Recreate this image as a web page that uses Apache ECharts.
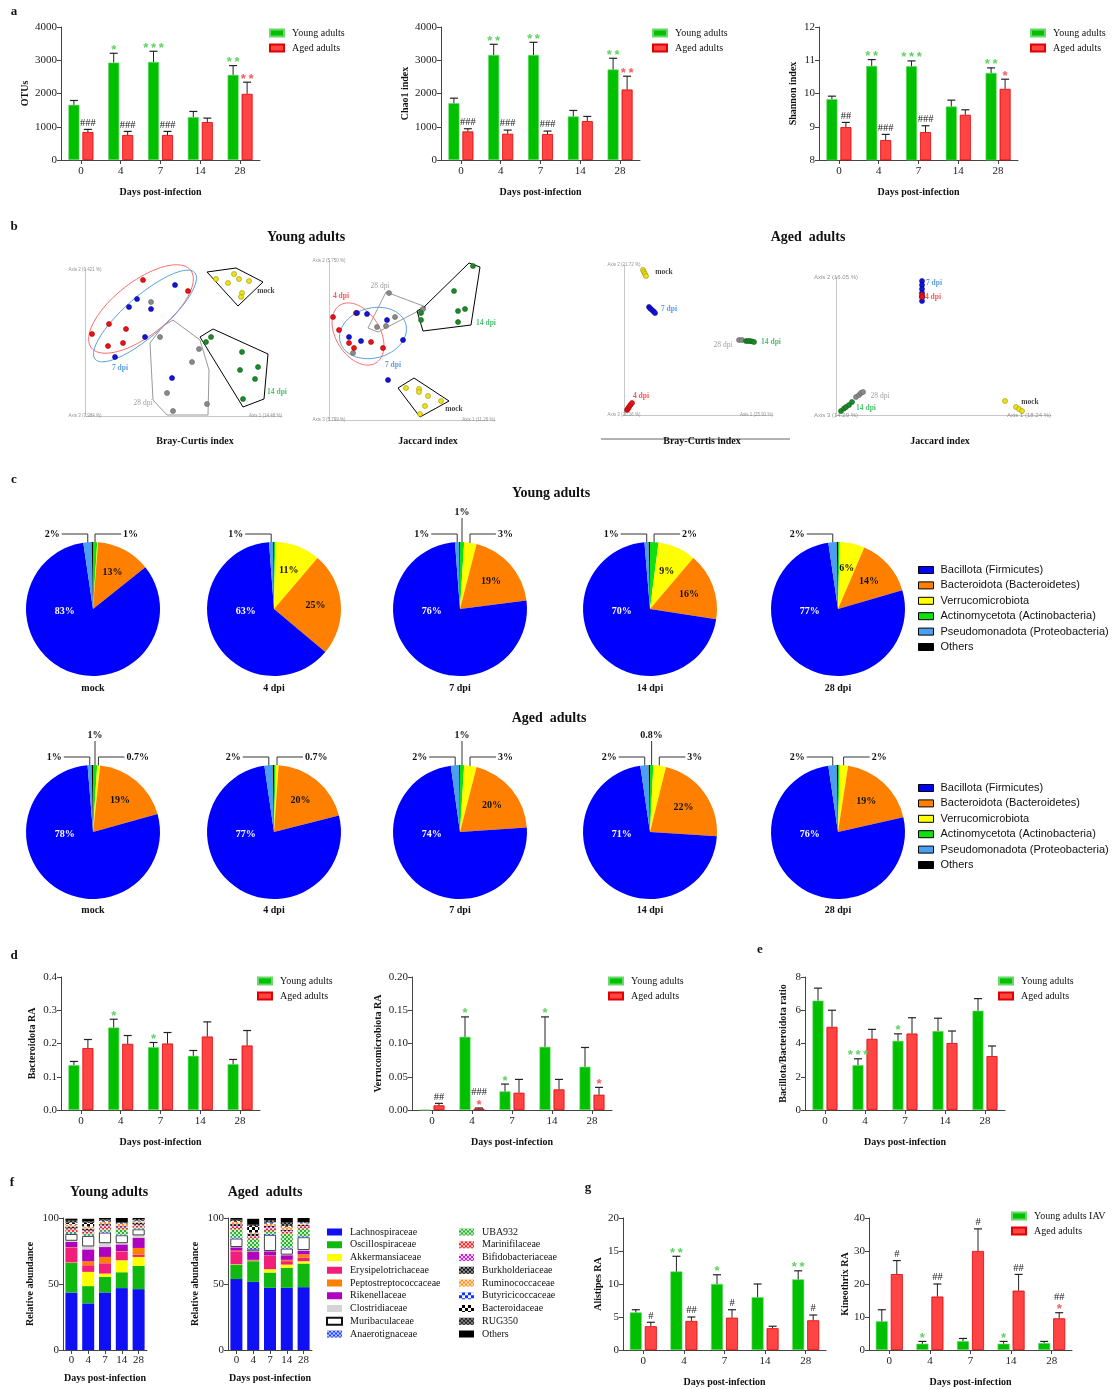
<!DOCTYPE html>
<html><head><meta charset="utf-8">
<script src="https://cdn.jsdelivr.net/npm/echarts/dist/echarts.min.js"></script>
<style>html,body{margin:0;padding:0;background:#fff;}#chart{width:1115px;height:1389px;}</style>
</head><body><div id="chart"></div>
<script>
// ================= DATA =================
const days = ['0','4','7','14','28'];

// panel a
const otuYoung = [1660,2930,2950,1290,2560];
const otuYoungSem = [130,280,320,170,280];
const otuAged = [840,750,750,1140,1990];
const otuAgedSem = [80,110,110,120,350];

const chaoYoung = [1710,3160,3160,1310,2720];
const chaoYoungSem = [150,320,380,180,340];
const chaoAged = [860,790,780,1170,2120];
const chaoAgedSem = [80,110,90,140,400];

const shanYoung = [9.83,10.83,10.82,9.61,10.62];
const shanYoungSem = [0.09,0.19,0.16,0.19,0.15];
const shanAged = [8.99,8.60,8.84,9.36,10.14];
const shanAgedSem = [0.14,0.17,0.19,0.15,0.29];

// panel d / e
const bactYoung = [0.135,0.248,0.189,0.163,0.138];
const bactYoungSem = [0.011,0.025,0.014,0.016,0.014];
const bactAged = [0.186,0.199,0.200,0.221,0.194];
const bactAgedSem = [0.026,0.025,0.033,0.044,0.045];

const verrYoung = [0,0.110,0.028,0.095,0.065];
const verrYoungSem = [0,0.030,0.011,0.045,0.029];
const verrAged = [0.007,0.002,0.026,0.031,0.023];
const verrAgedSem = [0.003,0.001,0.020,0.015,0.011];

const ratioYoung = [6.58,2.70,4.16,4.75,5.97];
const ratioYoungSem = [0.75,0.38,0.42,0.77,0.73];
const ratioAged = [5.00,4.28,4.60,4.03,3.24];
const ratioAgedSem = [1.00,0.57,0.95,0.72,0.61];

// panel g
const alisYoung = [5.7,11.9,10.0,8.0,10.7];
const alisYoungSem = [0.4,2.3,1.4,2.0,1.3];
const alisAged = [3.6,4.4,4.9,3.3,4.5];
const alisAgedSem = [0.6,0.6,1.2,0.3,0.8];

const kineYoung = [8.7,1.9,2.7,1.9,2.1];
const kineYoungSem = [3.5,0.7,0.8,0.7,0.5];
const kineAged = [23.0,16.2,30.0,18.0,9.6];
const kineAgedSem = [4.1,3.8,6.7,4.9,1.7];

// panel c (phyla %, legend order)
const phyla = ['Bacillota (Firmicutes)','Bacteroidota (Bacteroidetes)','Verrucomicrobiota','Actinomycetota (Actinobacteria)','Pseudomonadota (Proteobacteria)','Others'];
const pieSamples = ['mock','4 dpi','7 dpi','14 dpi','28 dpi'];
const phylaYoung = [[83,13,0.2,1,2,0.3],[63,25,11,0.3,1,0.2],[76,19,3,1,1,0.2],[70,16,9,2,1,0.3],[77,14,6,0.4,2,0.3]];
const phylaAged = [[78,19,0.7,1,1,0.3],[77,20,0.7,0.4,2,0.3],[74,20,3,1,2,0.2],[71,22,3,0.8,2,0.3],[76,19,2,0.4,2,0.3]];

// panel f (families, rows = family, columns = days)
const families = ['Lachnospiraceae','Oscillospiraceae','Akkermansiaceae','Erysipelotrichaceae','Peptostreptococcaceae','Rikenellaceae','Clostridiaceae','Muribaculaceae','Anaerotignaceae','UBA932','Marinifilaceae','Bifidobacteriaceae','Burkholderiaceae','Ruminococcaceae','Butyricicoccaceae','Bacteroidaceae','RUG350','Others'];
const famYoung = [
 [43.5,35.3,43.6,46.9,46.1],[22.5,13.1,11.8,12.0,17.6],[0.3,10.8,2.5,9.1,6.8],[11.0,5.0,7.8,6.3,1.8],
 [0.5,3.0,4.8,0.5,5.0],[4.0,9.0,7.5,5.2,7.6],[1.0,2.3,3.0,1.0,2.0],[5.0,7.8,7.9,5.9,4.5],
 [0.7,0.6,1.0,0.6,0.5],[1.0,1.5,1.5,4.0,1.0],[2.0,1.5,2.0,1.0,1.5],[0.5,0.5,1.0,1.0,0.5],
 [1.5,1.5,1.0,0.5,1.5],[1.5,1.5,1.5,1.5,1.0],[0.5,0.5,0.5,0.3,0.3],[1.0,2.5,0.5,0.3,0.5],
 [1.5,1.0,1.0,0.5,1.0],[1.5,2.0,1.5,3.5,0.8]];
const famAged = [
 [53.7,51.6,47.1,47.1,47.6],[11.0,15.7,11.6,15.1,17.9],[0.3,0.3,2.5,2.5,1.8],[9.8,0.4,10.1,2.6,2.7],
 [0.5,0.3,0.3,1.0,2.5],[2.5,6.0,3.2,3.5,2.8],[0.3,0.5,0.3,0.5,0.5],[6.3,1.5,12.1,4.5,9.6],
 [1.0,1.0,1.0,1.0,0.8],[6.0,7.1,2.0,10.4,5.7],[2.0,1.5,2.0,1.5,1.5],[0.5,0.5,1.0,0.5,0.5],
 [1.5,1.5,1.0,1.0,1.0],[1.5,1.0,1.5,2.0,1.0],[0.3,0.5,0.5,0.3,0.3],[0.5,4.5,0.5,0.5,0.3],
 [1.0,1.0,1.5,2.5,0.5],[1.3,4.5,2.5,3.5,3.0]];

// panel b (PCoA scores, arbitrary units)
const ybc4 = [[29,68],[51.5,62.5],[12,46],[20.5,43.5],[3.5,41],[11.5,35],[19,36.5]];
const ybc7 = [[45,65.5],[26,58.5],[22,54.5],[33,53.5],[30,39.5],[15,29.5],[43.5,19]];
const ybc14 = [[63,39.5],[60.5,37],[78.5,32],[86.5,24.5],[77.5,23],[85,18.5],[79,8.5]];
const ybc28 = [[33,57],[37.5,39.5],[57,33.5],[53.5,27],[41,11.5],[44,2.5],[61,6]];
const ybcMock = [[65.5,68.5],[74.5,71],[77,68.5],[82,67.5],[71.5,66.5],[78.5,61.5],[78,59.5]];
const ybcHullMock = [[61,72],[75.5,74],[89,67],[76.5,55]];
const ybcHull14 = [[57.5,39.5],[64,43.5],[91.5,31],[89.5,8.5],[79,4.5]];
const ybcHull28 = [[44,48],[39,45],[32.5,36.5],[34,8],[41,0.5],[61.5,0.5],[62,23],[57.5,38]];
const ybcEll4 = [28,53.5,31.5,13.5,38];   // cx, cy, semi-axis a, semi-axis b, tilt (deg)
const ybcEll7 = [30,50,33,10,41];

const yj4 = [[2,51.5],[5,45],[13.5,53.5],[21,39],[10,38.5],[12.5,36],[27,36]];
const yj7 = [[14,53.5],[19,53],[29,50],[10,41.5],[16,39.5],[37,40],[29.5,20]];
const yj14 = [[72,77],[62.5,64.5],[68,55.5],[64.5,54.5],[46,53.5],[46,50],[64.5,49]];
const yj28 = [[30,63.5],[33,51.5],[24,46.5],[28.5,47],[47,55.5],[12,33.5]];
const yjMock = [[38.5,16],[45,15.5],[45,14],[49.5,12],[56,9.5],[48,7],[45.5,3]];
const yjHull28 = [[28.5,64],[48.5,56.5],[24.5,44],[19.5,46]];
const yjHull14 = [[70,78.5],[75.5,76.5],[71,47.5],[47,44.5],[44,54.5],[47.5,56.5]];
const yjHullMock = [[34.5,16],[42.5,21],[60,9.5],[45.5,1.5]];
const yjEll4 = [14.5,43,17,11,-58];
const yjEll7 = [22,43.5,17,12.5,15];

const abcMock = [[9.5,72.5],[10,71.5],[10.5,70.5],[11,69.5]];
const abc7 = [[12.5,54],[13.2,53.2],[14,52.5],[14.8,51.8],[15.5,51]];
const abc28 = [[57.5,37.5],[59,37.5]];
const abc14 = [[61,37],[62,37],[63,37],[64,36.8],[65,36.5]];
const abc4 = [[1.5,2.5],[2,3.2],[2.5,4],[3.2,5],[4,6]];

const aj7 = [[43,67],[43,65],[43,63],[43,61],[43,59],[43,57]];
const aj4 = [[43,60],[43,59]];
const aj14 = [[2.5,2],[4,3.2],[5,4],[6.5,5],[8,6.5]];
const aj28 = [[10,9],[11.5,10],[12.5,11],[13.5,11.5]];
const ajMock = [[84.5,7],[90,4],[91.5,3],[93,2]];

// ================= BUILD =================
const SERIF = '"Liberation Serif","Times New Roman",serif';
const SANS = '"Liberation Sans",Arial,sans-serif';
const GREEN='#00c000', RED='#ff4444', STAR_G='#5fd35f', STAR_R='#ff5a5a';
const opt = {animation:false, backgroundColor:'#ffffff', textStyle:{fontFamily:SERIF},
  grid:[], xAxis:[], yAxis:[], series:[], legend:[], graphic:[]};

function addGrid(l,t,w,h){ opt.grid.push({left:l, top:t, width:w, height:h, containLabel:false, outerBoundsMode:'none'}); return opt.grid.length-1; }
function txt(x,y,t,size,weight,color,align,family){
  opt.graphic.push({type:'text', x:x, y:y, silent:true, z:10,
    style:{text:t, fontSize:size, fontWeight:weight||'normal', fontFamily:family||SERIF, fill:color||'#111',
      align:align||'center', textAlign:align||'center', verticalAlign:'middle', textVerticalAlign:'middle'}});
}

function barChart(c){
  const gi = addGrid(c.left, c.top, c.width, c.height);
  const bw = c.bw || 11, gap = 3, off = (bw+gap)/2, axisCol = '#444';
  opt.xAxis.push({type:'category', gridIndex:gi, data:days,
    axisLine:{show:true, lineStyle:{color:axisCol, width:1}},
    axisTick:{show:true, alignWithLabel:true, length:4, lineStyle:{color:axisCol}},
    axisLabel:{show:true, fontFamily:SERIF, fontSize:11, color:'#222', margin:6, interval:0},
    splitLine:{show:false},
    name:'Days post-infection', nameLocation:'middle', nameGap:c.xGap||27,
    nameTextStyle:{fontFamily:SERIF, fontWeight:'bold', fontSize:10, color:'#111'}});
  const xi = opt.xAxis.length-1;
  opt.yAxis.push({type:'value', gridIndex:gi, min:c.min, max:c.max, interval:c.interval,
    axisLine:{show:true, lineStyle:{color:axisCol, width:1}},
    axisTick:{show:true, length:4, lineStyle:{color:axisCol}},
    axisLabel:{show:true, fontFamily:SERIF, fontSize:11, color:'#222', margin:4, formatter:v=>v.toFixed(c.dec||0)},
    splitLine:{show:false},
    name:c.yName, nameLocation:'middle', nameGap:c.yGap,
    nameTextStyle:{fontFamily:SERIF, fontWeight:'bold', fontSize:10, color:'#111'}});
  const yi = opt.yAxis.length-1;
  const names = c.names || ['Young adults','Aged adults'];
  const base = {type:'bar', xAxisIndex:xi, yAxisIndex:yi, barWidth:bw, barGap:(gap/bw*100)+'%', silent:true};
  opt.series.push(Object.assign({name:names[0], data:c.young, itemStyle:{color:GREEN, borderColor:'#6ad86a', borderWidth:0.6}}, base));
  opt.series.push(Object.assign({name:names[1], data:c.aged, itemStyle:{color:RED, borderColor:'#e00000', borderWidth:0.8}}, base));
  const sets = [[c.young,c.youngSem,-off,c.starsY||[],null,STAR_G],[c.aged,c.agedSem,off,c.starsA||[],c.hashA||null,STAR_R]];
  sets.forEach(s=>{
    const vals=s[0], sem=s[1], dx=s[2], stars=s[3], hashes=s[4], scol=s[5];
    opt.series.push({type:'custom', xAxisIndex:xi, yAxisIndex:yi, silent:true, z:5, clip:false,
      data: vals.map((v,i)=>[i,v,sem[i]]),
      renderItem:(p,api)=>{
        const i=api.value(0), v=api.value(1), e=api.value(2);
        const p0=api.coord([i,v]), p1=api.coord([i,v+e]);
        const x=p0[0]+dx, ch=[];
        if(e>0){
          ch.push({type:'line', shape:{x1:x,y1:p0[1],x2:x,y2:p1[1]}, style:{stroke:'#222', lineWidth:1}});
          ch.push({type:'line', shape:{x1:x-4,y1:p1[1],x2:x+4,y2:p1[1]}, style:{stroke:'#222', lineWidth:1.2}});
        }
        let yTop = p1[1];
        const st = stars[i], hs = hashes ? hashes[i] : '';
        if(st){
          ch.push({type:'text', x:x, y:yTop-3, style:{text:st.split('').join('\u2009'), fill:scol, fontSize:13, fontWeight:'bold', fontFamily:SANS, align:'center', textAlign:'center', verticalAlign:'middle', textVerticalAlign:'middle'}});
          yTop -= 9;
        }
        if(hs){
          ch.push({type:'text', x:x, y:yTop-1, style:{text:hs, fill:'#222', fontSize:10.5, fontFamily:SERIF, align:'center', textAlign:'center', verticalAlign:'bottom', textVerticalAlign:'bottom'}});
        }
        return {type:'group', children:ch};
      }});
  });
  if(c.legend){
    opt.legend.push({left:c.legend[0], top:c.legend[1], orient:'vertical', padding:0, itemGap:3,
      itemWidth:14, itemHeight:7, icon:'rect', selectedMode:false, data:names,
      textStyle:{fontFamily:SERIF, fontSize:10, color:'#111', lineHeight:12, padding:[0,0,0,3]}});
  }
}

// ---- panel a
barChart({left:61, top:27, width:199, height:133, min:0, max:4000, interval:1000, yName:'OTUs', yGap:31,
  young:otuYoung, youngSem:otuYoungSem, aged:otuAged, agedSem:otuAgedSem,
  starsY:['','*','***','','**'], starsA:['','','','','**'], hashA:['###','###','###','',''], legend:[269,27]});
barChart({left:441, top:27, width:199, height:133, min:0, max:4000, interval:1000, yName:'Chao1 index', yGap:31,
  young:chaoYoung, youngSem:chaoYoungSem, aged:chaoAged, agedSem:chaoAgedSem,
  starsY:['','**','**','','**'], starsA:['','','','','**'], hashA:['###','###','###','',''], legend:[652,27]});
barChart({left:819, top:27, width:199, height:133, min:8, max:12, interval:1, yName:'Shannon index', yGap:21,
  young:shanYoung, youngSem:shanYoungSem, aged:shanAged, agedSem:shanAgedSem,
  starsY:['','**','***','','**'], starsA:['','','','','*'], hashA:['##','###','###','',''], legend:[1030,27]});

// ---- panel d / e
barChart({left:61, top:977, width:199, height:133, min:0, max:0.4, interval:0.1, dec:1, yName:'Bacteroidota RA', yGap:24,
  young:bactYoung, youngSem:bactYoungSem, aged:bactAged, agedSem:bactAgedSem,
  starsY:['','*','*','',''], legend:[257,975]});
barChart({left:412, top:977, width:200, height:133, min:0, max:0.2, interval:0.05, dec:2, yName:'Verrucomicrobiota RA', yGap:29,
  young:verrYoung, youngSem:verrYoungSem, aged:verrAged, agedSem:verrAgedSem,
  starsY:['','*','*','*',''], starsA:['','*','','','*'], hashA:['##','###','','',''], legend:[608,975]});
barChart({left:805, top:977, width:200, height:133, min:0, max:8, interval:2, yName:'Bacillota/Bacteroidota ratio', yGap:17,
  young:ratioYoung, youngSem:ratioYoungSem, aged:ratioAged, agedSem:ratioAgedSem,
  starsY:['','***','*','',''], legend:[998,975]});

// ---- panel g
barChart({left:623, top:1218, width:203, height:132, min:0, max:20, interval:5, bw:12, yName:'Alistipes RA', yGap:20,
  young:alisYoung, youngSem:alisYoungSem, aged:alisAged, agedSem:alisAgedSem,
  starsY:['','**','*','','**'], hashA:['#','##','#','','#']});
barChart({left:869, top:1218, width:203, height:132, min:0, max:40, interval:10, bw:12, yName:'Kineothrix RA', yGap:14,
  young:kineYoung, youngSem:kineYoungSem, aged:kineAged, agedSem:kineAgedSem,
  starsY:['','*','','*',''], starsA:['','','','','*'], hashA:['#','##','#','##','##'],
  names:['Young adults IAV','Aged adults'], legend:[1011,1210]});

// ---- panel c pies
const PHYLA_COL = ['#0000ff','#ff8000','#ffff00','#10e010','#4a9ff0','#000000'];
const PIE_ORDER = [3,2,1,0,4,5]; // clockwise from 12 o'clock
function pie(cx, cy, r, vals){
  const ord = PIE_ORDER.map(k=>({name:phyla[k], value:vals[k], k:k}));
  const total = ord.reduce((a,d)=>a+d.value,0);
  let acc=0; const mids = ord.map(d=>{const m=(acc+d.value/2)/total*2*Math.PI; acc+=d.value; return m;});
  let maxI=0; ord.forEach((d,i)=>{ if(d.value>ord[maxI].value) maxI=i; });
  const modes = ord.map((d,i)=> d.value<0.5 ? 'none' : (d.value>=5 ? 'in' : (mids[i]>Math.PI ? 'L' : 'R')));
  const rs = modes.map((m,i)=>m==='R'?i:-1).filter(i=>i>=0);
  if(rs.length>=2) modes[rs[0]]='up';
  opt.series.push({type:'pie', center:[cx,cy], radius:[0,r], startAngle:90, clockwise:true, avoidLabelOverlap:false,
    silent:true, itemStyle:{borderWidth:0},
    label:{fontFamily:SERIF, fontWeight:'bold', fontSize:10, color:'#111', formatter:p=>p.value+'%'},
    labelLine:{show:true, lineStyle:{color:'#333', width:1}},
    labelLayout:(p)=>{
      const i=p.dataIndex, th=mids[i], m=modes[i];
      if(m==='none') return {};
      if(m==='in'){
        if(i===maxI) return {x:cx-0.42*r, y:cy+0.03*r, align:'center', verticalAlign:'middle'};
        return {x:cx+0.62*r*Math.sin(th), y:cy-0.62*r*Math.cos(th), align:'center', verticalAlign:'middle'};
      }
      const x0=cx+(r-3)*Math.sin(th), y0=cy-(r-3)*Math.cos(th);
      if(m==='up'){ const yt=cy-r-24; return {x:x0, y:yt-1, align:'center', verticalAlign:'bottom', labelLinePoints:[[x0,y0],[x0,yt],[x0,yt]]}; }
      const dir = m==='L'?-1:1, yh=cy-r-8;
      return {x:x0+dir*28, y:yh, align:dir<0?'right':'left', verticalAlign:'middle', labelLinePoints:[[x0,y0],[x0,yh],[x0+dir*26,yh]]};
    },
    data: ord.map((d,i)=>({name:d.name, value:d.value, itemStyle:{color:PHYLA_COL[d.k]},
      label:{show:modes[i]!=='none', position:modes[i]==='in'?'inside':'outside', color:(modes[i]==='in'&&i===maxI)?'#fff':'#111'},
      labelLine:{show:modes[i]!=='in' && modes[i]!=='none'}}))});
}
const pieCx = [93,274,460,650,838];
phylaYoung.forEach((v,j)=>{ pie(pieCx[j], 609, 67, v); txt(pieCx[j], 688, pieSamples[j], 10, 'bold'); });
phylaAged.forEach((v,j)=>{ pie(pieCx[j], 832, 67, v); txt(pieCx[j], 910, pieSamples[j], 10, 'bold'); });
[563.5, 781.5].forEach(t=>opt.legend.push({left:918, top:t, orient:'vertical', padding:0, itemGap:2.4, itemWidth:15, itemHeight:7,
  icon:'rect', selectedMode:false, data:phyla, itemStyle:{borderColor:'#000', borderWidth:1},
  textStyle:{fontFamily:SANS, fontSize:11, color:'#111', lineHeight:13, padding:[0,0,0,2]}}));

// ---- panel f stacked bars
function checker(fg,bg,s){ return {color:bg, decal:{symbol:'rect', symbolSize:1, dashArrayX:[[s,s],[0,s,s,0]], dashArrayY:[s,0], color:fg}}; }
const FAM_STYLE = [
  {color:'#1010f5'},{color:'#10b810'},{color:'#ffff00'},{color:'#f0207a'},{color:'#ff7f00'},{color:'#b000c0'},
  {color:'#d4d4d4'},{color:'#ffffff', borderColor:'#111', borderWidth:0.8},
  checker('#2040ff','#c0ccff',2), checker('#30b030','#c8f0c8',2), checker('#ff2020','#ffd0d0',2), checker('#d020d0','#f8d0f8',2),
  checker('#111111','#999999',1.5), checker('#ff9020','#ffe0c0',2), checker('#1030ff','#ffffff',3), checker('#000000','#ffffff',3),
  checker('#222222','#888888',1.5), {color:'#000000'}];
function stackChart(left, rows, stackId){
  const gi = addGrid(left, 1218, 84, 132), axisCol='#444';
  opt.xAxis.push({type:'category', gridIndex:gi, data:days,
    axisLine:{show:true, lineStyle:{color:axisCol}}, axisTick:{show:true, alignWithLabel:true, length:4, lineStyle:{color:axisCol}},
    axisLabel:{fontFamily:SERIF, fontSize:11, color:'#222', margin:5, interval:0}, splitLine:{show:false},
    name:'Days post-infection', nameLocation:'middle', nameGap:23, nameTextStyle:{fontFamily:SERIF, fontWeight:'bold', fontSize:10, color:'#111'}});
  const xi=opt.xAxis.length-1;
  opt.yAxis.push({type:'value', gridIndex:gi, min:0, max:100, interval:50,
    axisLine:{show:true, lineStyle:{color:axisCol}}, axisTick:{show:true, length:4, lineStyle:{color:axisCol}},
    axisLabel:{fontFamily:SERIF, fontSize:11, color:'#222', margin:4}, splitLine:{show:false},
    name:'Relative abundance', nameLocation:'middle', nameGap:28, nameTextStyle:{fontFamily:SERIF, fontWeight:'bold', fontSize:10, color:'#111'}});
  const yi=opt.yAxis.length-1;
  families.forEach((f,k)=>opt.series.push({type:'bar', name:f, stack:stackId, xAxisIndex:xi, yAxisIndex:yi, barWidth:12,
    silent:true, data:rows[k], itemStyle:FAM_STYLE[k]}));
}
stackChart(63, famYoung, 'young');
stackChart(228, famAged, 'aged');
[[326, families.slice(0,9)],[459, families.slice(9)]].forEach(l=>opt.legend.push({left:l[0], top:1226, orient:'vertical', padding:0,
  itemGap:0.75, itemWidth:15, itemHeight:7, icon:'rect', selectedMode:false, data:l[1],
  textStyle:{fontFamily:SERIF, fontSize:10, color:'#111', lineHeight:12, padding:[0,0,0,3]}}));

// ---- panel b PCoA
const PT_COL = {'4 dpi':'#e8141a','7 dpi':'#1414d8','14 dpi':'#1e8a2a','28 dpi':'#8a8a8a','mock':'#eee21a'};
const PT_BOR = {'4 dpi':'#a00000','7 dpi':'#000090','14 dpi':'#0c5a14','28 dpi':'#606060','mock':'#9a9400'};
const LB_COL = {'4 dpi':'#ff2a2a','7 dpi':'#2f86d8','14 dpi':'#23b04b','28 dpi':'#8a8a8a','mock':'#111'};
function pcoa(c){
  const U=2;
  const gi = addGrid(c.ox, c.oy-c.yMax*U, c.xMax*U, c.yMax*U);
  const ax = (max)=>({type:'value', gridIndex:gi, min:0, max:max, axisLine:{show:true, onZero:false, lineStyle:{color:'#c8c8c8', width:1}},
    axisTick:{show:false}, axisLabel:{show:false}, splitLine:{show:false}});
  opt.xAxis.push(ax(c.xMax)); const xi=opt.xAxis.length-1;
  opt.yAxis.push(ax(c.yMax)); const yi=opt.yAxis.length-1;
  const base = {xAxisIndex:xi, yAxisIndex:yi, silent:true};
  (c.hulls||[]).forEach(h=>opt.series.push(Object.assign({type:'line', data:h[1].concat([h[1][0]]), symbol:'none', showSymbol:false,
    lineStyle:{color:h[0], width:1}, clip:false, z:2}, base)));
  (c.ells||[]).forEach(e=>opt.series.push(Object.assign({type:'custom', data:[e[1]], clip:false, z:2, renderItem:(p,api)=>{
    const ecx=api.value(0), ecy=api.value(1), a=api.value(2), b=api.value(3), t=api.value(4)*Math.PI/180, pts=[];
    for(let k=0;k<80;k++){ const u=k/80*2*Math.PI, dx=a*Math.cos(u), dy=b*Math.sin(u);
      pts.push(api.coord([ecx+dx*Math.cos(t)-dy*Math.sin(t), ecy+dx*Math.sin(t)+dy*Math.cos(t)])); }
    return {type:'polygon', shape:{points:pts}, style:{fill:'none', stroke:e[0], lineWidth:1}};
  }}, base)));
  c.groups.forEach(g=>opt.series.push(Object.assign({type:'scatter', data:g[1], symbolSize:5,
    itemStyle:{color:PT_COL[g[0]], borderColor:PT_BOR[g[0]], borderWidth:0.6, opacity:1}, z:3}, base)));
  opt.series.push(Object.assign({type:'scatter', symbolSize:0.1, itemStyle:{color:'rgba(0,0,0,0)'}, z:4,
    data:c.labels.map(l=>({name:l[0], value:[l[1],l[2]], label:{show:true, position:'inside', formatter:'{b}',
      fontFamily:SERIF, fontSize:7.5, fontWeight:l[0]==='28 dpi'?'normal':'bold', color:LB_COL[l[0]]}}))}, base));
  const axPos = [[0,c.yMax,'center'],[0,0,'center'],[c.xMax,0,'right']];
  opt.series.push(Object.assign({type:'scatter', symbolSize:0.1, itemStyle:{color:'rgba(0,0,0,0)'}, z:4,
    data:c.axisNames.map((n,i)=>({name:n, value:[axPos[i][0],axPos[i][1]], label:{show:true, position:'inside', formatter:'{b}',
      align:axPos[i][2], fontFamily:SANS, fontSize:c.axFont, color:'#777'}}))}, base));
}
pcoa({ox:85, oy:416, xMax:98.5, yMax:73, axFont:4.5, axisNames:['Axis 2 (9.421 %)','Axis 3 (7.984 %)','Axis 1 (14.48 %)'],
  hulls:[['#000',ybcHullMock],['#000',ybcHull14],['#999',ybcHull28]],
  ells:[['#ff6a6a',ybcEll4],['#5aa0e0',ybcEll7]],
  groups:[['28 dpi',ybc28],['4 dpi',ybc4],['7 dpi',ybc7],['14 dpi',ybc14],['mock',ybcMock]],
  labels:[['4 dpi',24.5,74.5],['7 dpi',17.5,24],['mock',90.5,62.5],['14 dpi',96,12],['28 dpi',29,6.5]]});
pcoa({ox:329, oy:420, xMax:83, yMax:79.5, axFont:4.5, axisNames:['Axis 2 (5.750 %)','Axis 3 (5.799 %)','Axis 1 (11.26 %)'],
  hulls:[['#999',yjHull28],['#000',yjHull14],['#000',yjHullMock]],
  ells:[['#ff6a6a',yjEll4],['#5aa0e0',yjEll7]],
  groups:[['28 dpi',yj28],['4 dpi',yj4],['7 dpi',yj7],['14 dpi',yj14],['mock',yjMock]],
  labels:[['4 dpi',6,62],['28 dpi',25.5,67],['14 dpi',78.5,48.5],['7 dpi',32,27.5],['mock',62.5,5.5]]});
pcoa({ox:624, oy:415, xMax:74.5, yMax:75, axFont:4.5, axisNames:['Axis 2 (21.72 %)','Axis 3 (20.16 %)','Axis 1 (25.91 %)'],
  groups:[['mock',abcMock],['7 dpi',abc7],['28 dpi',abc28],['14 dpi',abc14],['4 dpi',abc4]],
  labels:[['mock',20,71.5],['7 dpi',22.5,53],['28 dpi',49.5,35],['14 dpi',73.5,36.5],['4 dpi',8.5,9.5]]});
pcoa({ox:836, oy:415, xMax:107.5, yMax:69, axFont:6, axisNames:['Axis 2 (16.05 %)','Axis 3 (14.29 %)','Axis 1 (18.24 %)'],
  groups:[['7 dpi',aj7],['4 dpi',aj4],['14 dpi',aj14],['28 dpi',aj28],['mock',ajMock]],
  labels:[['7 dpi',49,66],['4 dpi',48.5,59],['28 dpi',22,9.5],['14 dpi',15,3.5],['mock',97,6.5]]});

// ---- text
[['a',14,12],['b',14,227],['c',14,480],['d',14,956],['e',760,950],['f',12,1183],['g',588,1188]].forEach(t=>txt(t[1],t[2],t[0],13,'bold'));
txt(306,237,'Young adults',14,'bold'); txt(808,237,'Aged  adults',14,'bold');
txt(195,441,'Bray-Curtis index',10,'bold'); txt(428,441,'Jaccard index',10,'bold');
txt(702,441,'Bray-Curtis index',10,'bold'); txt(940,441,'Jaccard index',10,'bold');
opt.graphic.push({type:'line', silent:true, shape:{x1:601,y1:439,x2:790,y2:439}, style:{stroke:'#666', lineWidth:1}});
txt(551,493,'Young adults',14,'bold'); txt(549,718,'Aged  adults',14,'bold');
txt(109,1192,'Young adults',14,'bold'); txt(265,1192,'Aged  adults',14,'bold');

const chart = echarts.init(document.getElementById('chart'), null, {renderer:'canvas'});
chart.setOption(opt);
</script></body></html>
